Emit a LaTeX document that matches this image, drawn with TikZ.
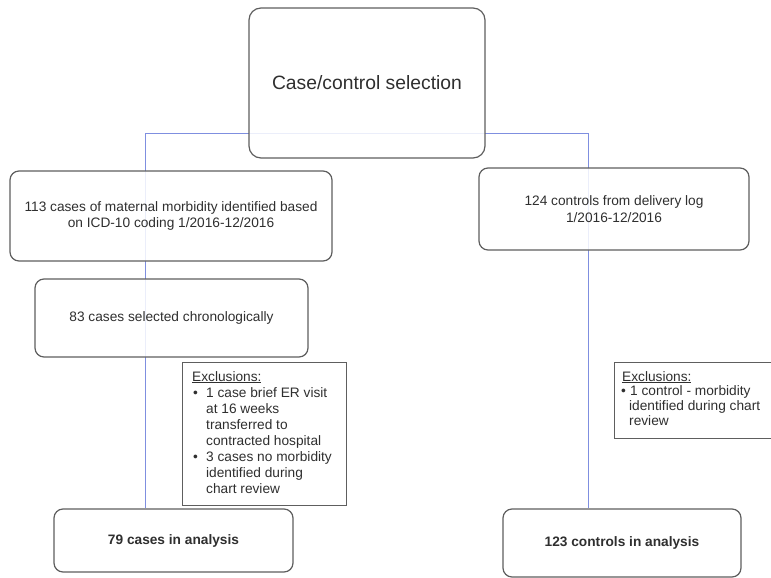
\documentclass[tikz,border=0pt]{standalone}
\usepackage{fontspec}
\setmainfont{Liberation Sans}
\usetikzlibrary{backgrounds}
\definecolor{boxline}{HTML}{5E5E5E}
\definecolor{txt}{HTML}{2F2F2F}
\definecolor{conn}{HTML}{7F8FE0}
\tikzset{
  rbox/.style={draw=boxline, line width=1.2pt, rounded corners=9pt, fill=white, fill opacity=0.85, text opacity=1,
     text=txt, align=center, inner sep=0pt, font=\fontsize{13.7}{16.5}\selectfont},
  exbox/.style={draw=boxline, line width=1.1pt, fill=white, inner sep=0pt},
  extext/.style={text=txt, align=left, inner sep=0pt, font=\fontsize{13.7}{16}\selectfont},
  connline/.style={draw=conn, line width=1.1pt}
}
\begin{document}
\begin{tikzpicture}[x=1pt,y=-1pt]
\useasboundingbox (0,0) rectangle (771,578);
\clip (0,0) rectangle (771,578);
\node[rbox, rounded corners=12pt, minimum width=236pt, minimum height=150pt, font=\fontsize{19.3}{23}\selectfont] (top) at (367,83) {Case/control selection};
\node[rbox, minimum width=322pt, minimum height=90pt] (c113) at (171,216) {113 cases of maternal morbidity identified based\\on ICD-10 coding 1/2016-12/2016};
\node[rbox, minimum width=270pt, minimum height=82pt] (c124) at (614,209) {124 controls from delivery log\\1/2016-12/2016};
\node[rbox, minimum width=273pt, minimum height=78pt] (c83) at (171.5,318) {83 cases selected chronologically};
\node[rbox, minimum width=239pt, minimum height=63pt, font=\bfseries\fontsize{13.7}{16}\selectfont] (c79) at (173.5,540.5) {79 cases in analysis};
\node[rbox, minimum width=238pt, minimum height=68pt, font=\bfseries\fontsize{13.7}{16}\selectfont] (c123) at (622,543) {123 controls in analysis};
\node[exbox, anchor=north west, minimum width=164pt, minimum height=143pt] (exl) at (182,362) {};
\node[extext, anchor=north west] (exlt) at ([xshift=10pt,yshift=-9pt]exl.north west) {%
\underline{Exclusions:}\\
\makebox[14pt][l]{\hspace{1pt}•}1 case brief ER visit\\
\hspace*{14pt}at 16 weeks\\
\hspace*{14pt}transferred to\\
\hspace*{14pt}contracted hospital\\
\makebox[14pt][l]{\hspace{1pt}•}3 cases no morbidity\\
\hspace*{14pt}identified during\\
\hspace*{14pt}chart review};
\node[exbox, anchor=north west, minimum width=200pt, minimum height=76pt] (exr) at (614,362) {};
\node[extext, anchor=north west, font=\fontsize{13.7}{14.8}\selectfont] (exrt) at ([xshift=7pt,yshift=-9pt]exr.north west) {%
\hspace*{1pt}\underline{Exclusions:}\\
\makebox[9pt][l]{•}1 control - morbidity\\
\hspace*{8pt}identified during chart\\
\hspace*{8pt}review};
\coordinate (jl) at (145.5,133.5);
\coordinate (jr) at (588.5,133.5);
\begin{scope}[on background layer]
\draw[connline] (c79.north -| jl) -- (jl) -- (jr) -- (c123.north -| jr);
\end{scope}
\end{tikzpicture}
\end{document}
